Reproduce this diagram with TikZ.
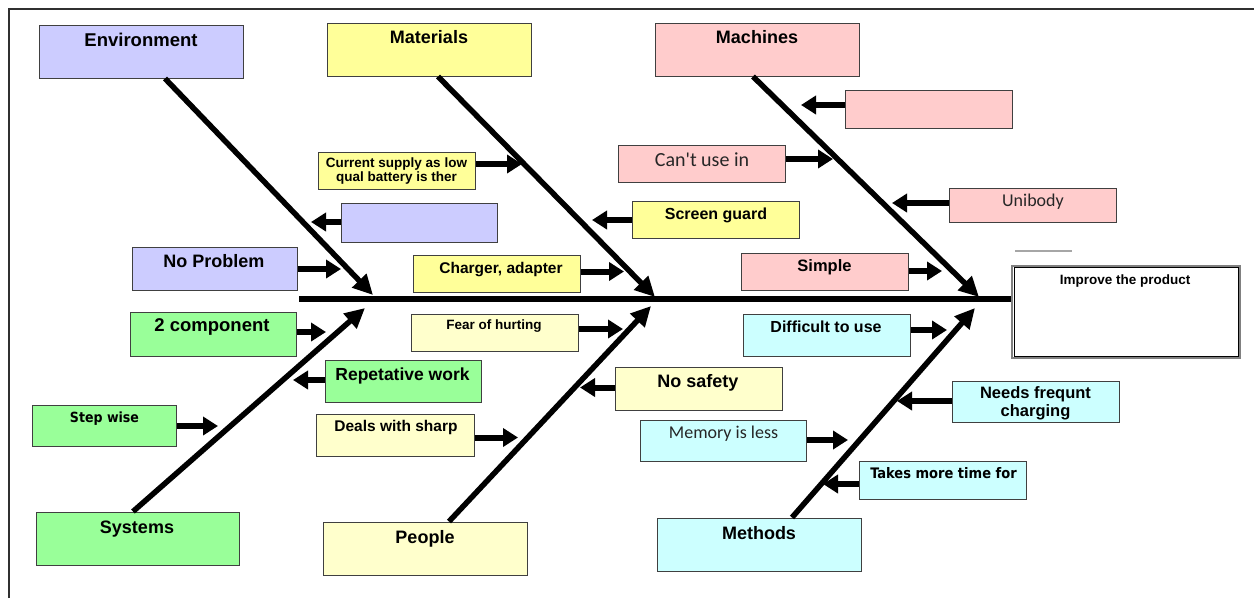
\documentclass[tikz,border=0pt]{standalone}
\usepackage{fontspec}
\setmainfont{Liberation Sans}
\newfontfamily\calibri{Carlito}
\newfontfamily\tahoma{DejaVu Sans Condensed}
\usetikzlibrary{arrows.meta,fit}

\definecolor{lavfill}{HTML}{CCCCFF}
\definecolor{yelfill}{HTML}{FFFF99}
\definecolor{pinkfill}{HTML}{FFCCCC}
\definecolor{grnfill}{HTML}{99FF99}
\definecolor{ltyfill}{HTML}{FFFFCC}
\definecolor{cyanfill}{HTML}{CCFFFF}
\definecolor{boxline}{HTML}{404040}
\definecolor{framecol}{HTML}{303030}

\tikzset{
  box/.style={draw=boxline, line width=1pt, inner sep=0pt},
  lbl/.style={inner sep=0pt, anchor=base, text=black,
              font=\bfseries\fontsize{#1}{#1}\selectfont},
  clbl/.style={inner sep=0pt, anchor=base, text=black!85,
               font=\calibri\fontsize{#1}{#1}\selectfont},
  tlbl/.style={inner sep=0pt, anchor=base, text=black,
               font=\tahoma\bfseries\fontsize{#1}{#1}\selectfont},
  spine/.style={line width=5.5pt},
  bone/.style={line width=5.5pt, -{Triangle[length=20pt,width=19pt]}},
  cause/.style={line width=6pt, -{Triangle[length=15pt,width=18pt]}},
}

\begin{document}
\begin{tikzpicture}[x=1pt,y=-1pt]
\useasboundingbox (0,0) rectangle (1254,598);

% outer frame
\draw[framecol, line width=2pt] (9,598) -- (9,9) -- (1254,9);

% ---------- category boxes ----------
\node[box, fill=lavfill,  fit={(39,25)(243,78)}]   (env)  {};
\node[box, fill=yelfill,  fit={(327,23)(531,76)}]  (mat)  {};
\node[box, fill=pinkfill, fit={(655,23)(859,76)}]  (mach) {};
\node[box, fill=grnfill,  fit={(36,512)(239,565)}] (sys)  {};
\node[box, fill=ltyfill,  fit={(323,522)(527,575)}] (ppl) {};
\node[box, fill=cyanfill, fit={(657,518)(861,571)}] (meth) {};

% ---------- cause boxes ----------
\node[box, fill=yelfill,  fit={(318,152)(475,189)}]  (cur)    {};
\node[box, fill=lavfill,  fit={(341,203)(497,242)}]  (envb)   {};
\node[box, fill=lavfill,  fit={(132,247)(297,290)}]  (noprob) {};
\node[box, fill=yelfill,  fit={(413,255)(580,292)}]  (charg)  {};
\node[box, fill=yelfill,  fit={(632,201)(799,238)}]  (screen) {};
\node[box, fill=pinkfill, fit={(618,145)(785,182)}]  (cant)   {};
\node[box, fill=pinkfill, fit={(845,90)(1012,128)}]  (machb)  {};
\node[box, fill=pinkfill, fit={(949,188)(1116,222)}] (uni)    {};
\node[box, fill=pinkfill, fit={(741,253)(908,290)}]  (simple) {};
\node[box, fill=grnfill,  fit={(130,312)(296,356)}]  (twoc)   {};
\node[box, fill=grnfill,  fit={(325,360)(481,402)}]  (repet)  {};
\node[box, fill=grnfill,  fit={(32,405)(176,446)}]   (stepw)  {};
\node[box, fill=ltyfill,  fit={(411,314)(578,351)}]  (fear)   {};
\node[box, fill=ltyfill,  fit={(615,367)(782,410)}]  (nosafe) {};
\node[box, fill=ltyfill,  fit={(316,414)(474,456)}]  (deals)  {};
\node[box, fill=cyanfill, fit={(743,314)(910,356)}]  (diff)   {};
\node[box, fill=cyanfill, fit={(640,420)(806,461)}]  (mem)    {};
\node[box, fill=cyanfill, fit={(952,381)(1119,422)}] (needs)  {};
\node[box, fill=cyanfill, fit={(859,461)(1026,499)}] (takes)  {};

% ---------- effect box ----------
\node[draw=gray, line width=1.2pt, fill=white, inner sep=0pt,
      fit={(1012,266)(1240,358)}] (eff) {};
\draw[black, line width=1pt] ([xshift=3pt,yshift=-2pt]eff.north west)
  rectangle ([xshift=-2pt,yshift=2pt]eff.south east);
\draw[gray!70, line width=1.5pt] (1015,251) -- (1072,251);

% ---------- texts ----------
\node[lbl=18.5] (t-env)  at (141,46)  {Environment};
\node[lbl=18]   (t-mat)  at (429,43.5){Materials};
\node[lbl=18]   (t-mach) at (757,43.5){Machines};
\node[lbl=18]   (t-sys)  at (137,533) {Systems};
\node[lbl=18]   (t-ppl)  at (425,543) {People};
\node[lbl=18]   (t-meth) at (759,539) {Methods};

\node[lbl=13.5, anchor=north, align=center,
      font=\bfseries\fontsize{13.5}{14.5}\selectfont] (t-cur) at (396.5,157.5)
      {Current supply as low\\qual battery is ther};
\node[lbl=18]   (t-noprob) at (214,267)   {No Problem};
\node[lbl=15.5] (t-charg)  at (501,273)   {Charger, adapter};
\node[lbl=16]   (t-screen) at (716,219.5) {Screen guard};
\node[clbl=20]  (t-cant)   at (702,166)   {Can't use in};
\node[clbl=18]  (t-uni)    at (1033,206.5){Unibody};
\node[lbl=16.5] (t-simple) at (824.5,271.5){Simple};
\node[lbl=13.5] (t-eff)    at (1125,284)  {Improve the product};
\node[lbl=18.5] (t-twoc)   at (212,331)   {2 component};
\node[lbl=17.5] (t-repet)  at (402.5,380) {Repetative work};
\node[tlbl=14]  (t-stepw)  at (104.5,422) {Step wise};
\node[lbl=13.5] (t-fear)   at (494,329)   {Fear of hurting};
\node[lbl=18]   (t-nosafe) at (698,387)   {No safety};
\node[lbl=15.5] (t-deals)  at (396,431)   {Deals with sharp};
\node[lbl=16]   (t-diff)   at (826,332)   {Difficult to use};
\node[clbl=18]  (t-mem)    at (723.5,438) {Memory is less};
\node[lbl=16.5, anchor=north, align=center,
      font=\bfseries\fontsize{16.5}{18}\selectfont] (t-needs) at (1035.5,386)
      {Needs frequnt\\charging};
\node[tlbl=14.5] (t-takes) at (943.5,478) {Takes more time for};

% ---------- spine and bones ----------
\coordinate (tail) at (299,299);
\draw[spine] (tail) -- (tail -| eff.west);

\coordinate (env-tip)  at (373,295);
\coordinate (mat-tip)  at (655,297);
\coordinate (mach-tip) at (979,297);
\coordinate (sys-tip)  at (365,308);
\coordinate (ppl-tip)  at (651,306);
\coordinate (meth-tip) at (975,308);

\draw[bone] ([xshift=24pt]env.south)   -- (env-tip);
\draw[bone] ([xshift=9pt]mat.south)    -- (mat-tip);
\draw[bone] ([xshift=-4pt]mach.south)  -- (mach-tip);
\draw[bone] ([xshift=-4.5pt]sys.north) -- (sys-tip);
\draw[bone] ([xshift=24pt]ppl.north)   -- (ppl-tip);
\draw[bone] ([xshift=33pt]meth.north)  -- (meth-tip);

% ---------- cause arrows ----------
\coordinate (cur-tip)    at (522,164);
\coordinate (envb-tip)   at (311,222);
\coordinate (noprob-tip) at (341,269);
\coordinate (charg-tip)  at (624,271.5);
\coordinate (screen-tip) at (592,220);
\coordinate (cant-tip)   at (833,159);
\coordinate (machb-tip)  at (801,105);
\coordinate (uni-tip)    at (892,203);
\coordinate (simple-tip) at (942,271);
\coordinate (twoc-tip)   at (326,332);
\coordinate (repet-tip)  at (293,380);
\coordinate (stepw-tip)  at (218,426);
\coordinate (fear-tip)   at (623,329);
\coordinate (nosafe-tip) at (580,387.5);
\coordinate (deals-tip)  at (518,437.5);
\coordinate (diff-tip)   at (947,330);
\coordinate (mem-tip)    at (848,440);
\coordinate (needs-tip)  at (897,401);
\coordinate (takes-tip)  at (823,484);

\draw[cause] (cur.east    |- cur-tip)    -- (cur-tip);
\draw[cause] (envb.west   |- envb-tip)   -- (envb-tip);
\draw[cause] (noprob.east |- noprob-tip) -- (noprob-tip);
\draw[cause] (charg.east  |- charg-tip)  -- (charg-tip);
\draw[cause] (screen.west |- screen-tip) -- (screen-tip);
\draw[cause] (cant.east   |- cant-tip)   -- (cant-tip);
\draw[cause] (machb.west  |- machb-tip)  -- (machb-tip);
\draw[cause] (uni.west    |- uni-tip)    -- (uni-tip);
\draw[cause] (simple.east |- simple-tip) -- (simple-tip);
\draw[cause] (twoc.east   |- twoc-tip)   -- (twoc-tip);
\draw[cause] (repet.west  |- repet-tip)  -- (repet-tip);
\draw[cause] (stepw.east  |- stepw-tip)  -- (stepw-tip);
\draw[cause] (fear.east   |- fear-tip)   -- (fear-tip);
\draw[cause] (nosafe.west |- nosafe-tip) -- (nosafe-tip);
\draw[cause] (deals.east  |- deals-tip)  -- (deals-tip);
\draw[cause] (diff.east   |- diff-tip)   -- (diff-tip);
\draw[cause] (mem.east    |- mem-tip)    -- (mem-tip);
\draw[cause] (needs.west  |- needs-tip)  -- (needs-tip);
\draw[cause] (takes.west  |- takes-tip)  -- (takes-tip);
\end{tikzpicture}
\end{document}
